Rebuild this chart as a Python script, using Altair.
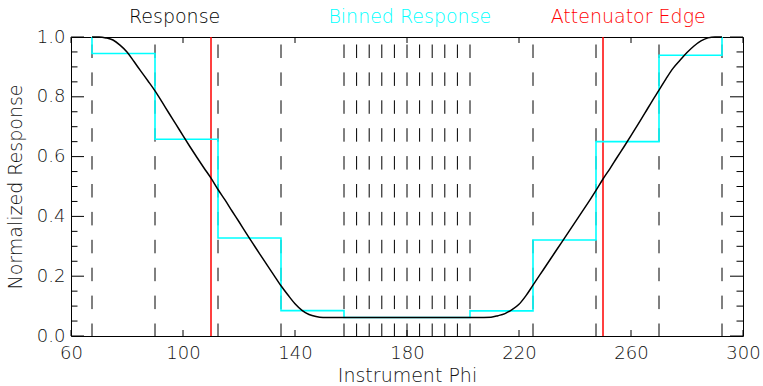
import altair as alt
import pandas as pd

# Response curve
resp_phi = [67.5, 70, 72.5, 75, 77.5, 80, 82.5, 85, 87.5, 90, 92.5, 95, 97.5, 100,
            102.5, 105, 107.5, 110, 112.5, 115, 117.5, 120, 122.5, 125, 127.5, 130,
            132.5, 135, 137.5, 140, 142.5, 145, 147.5, 150, 155, 160, 170, 180, 190,
            200, 205, 210, 212.5, 215, 217.5, 220, 222.5, 225, 227.5, 230, 232.5, 235,
            237.5, 240, 242.5, 245, 247.5, 250, 252.5, 255, 257.5, 260, 262.5, 265,
            267.5, 270, 272.5, 275, 277.5, 280, 282.5, 285, 287.5, 290, 292.5]
resp_val = [1.0, 1.0, 0.997, 0.99, 0.973, 0.95, 0.918, 0.885, 0.853, 0.82, 0.783, 0.745,
            0.708, 0.67, 0.633, 0.597, 0.562, 0.528, 0.49, 0.455, 0.418, 0.382, 0.345,
            0.309, 0.273, 0.238, 0.203, 0.168, 0.137, 0.108, 0.086, 0.072, 0.065, 0.062,
            0.0615, 0.0615, 0.0615, 0.0615, 0.0615, 0.0615, 0.0615, 0.063, 0.068, 0.075,
            0.088, 0.106, 0.135, 0.17, 0.205, 0.24, 0.275, 0.31, 0.345, 0.38, 0.415,
            0.45, 0.487, 0.525, 0.56, 0.597, 0.633, 0.67, 0.708, 0.746, 0.785, 0.822,
            0.86, 0.895, 0.922, 0.948, 0.97, 0.987, 0.997, 1.0, 1.0]

# Bin edges (dashed lines) and binned response
bin_edges = [67.5, 90, 112.5, 135, 157.5, 162, 166.5, 171, 175.5, 180, 184.5, 189,
             193.5, 198, 202.5, 225, 247.5, 270, 292.5]
bin_vals = [0.945, 0.658, 0.328, 0.085, 0.062, 0.062, 0.062, 0.062, 0.062, 0.062,
            0.062, 0.062, 0.062, 0.062, 0.084, 0.321, 0.650, 0.939]

# Attenuator edges
atten_edges = [110, 250]

# Axis ticks
x_ticks = [60, 100, 140, 180, 220, 260, 300]
y_major = [0.0, 0.2, 0.4, 0.6, 0.8, 1.0]
y_minor = [0.05, 0.1, 0.15, 0.25, 0.3, 0.35, 0.45, 0.5, 0.55, 0.65, 0.7, 0.75,
           0.85, 0.9, 0.95]

# Legend labels
legend_text = ["Response", "Binned Response", "Attenuator Edge"]
legend_color = ["#000000", "#00FFFF", "#FF0000"]
legend_x = [97, 181, 259]

W, H = 672, 299
FONT = "DejaVu Sans"
FW = 200

xs = alt.Scale(domain=[60, 300], nice=False, zero=False)
ys = alt.Scale(domain=[0, 1.0], nice=False, zero=False)

resp_df = pd.DataFrame({"phi": resp_phi, "r": resp_val})

# step path for binned response
step_x = [bin_edges[0]] + bin_edges[:-1] + [bin_edges[-1]]
step_y = [1.0] + bin_vals + [1.0]
step_df = pd.DataFrame({"phi": step_x, "r": step_y, "i": list(range(len(step_x)))})

edges_df = pd.DataFrame({"phi": bin_edges})
atten_df = pd.DataFrame({"phi": atten_edges})

x_axis = alt.Axis(values=x_ticks, ticks=False, domain=False, grid=False, labelFont=FONT,
                  labelFontSize=18, labelFontWeight=FW, labelColor="#111", labelPadding=8,
                  title="Instrument Phi", titleFont=FONT, titleFontSize=19,
                  titleFontWeight=FW, titleColor="#111", titlePadding=4, labelFlush=False)
y_axis = alt.Axis(values=y_major, format=".1f", ticks=False, domain=False, grid=False,
                  labelFont=FONT, labelFontSize=18, labelFontWeight=FW, labelColor="#111",
                  labelPadding=6, title="Normalized Response", titleFont=FONT,
                  titleFontSize=19, titleFontWeight=FW, titleColor="#111",
                  titlePadding=11, labelFlush=False)

dashed = alt.Chart(edges_df).mark_rule(color="black", strokeWidth=1,
                                        strokeDash=[13.5, 14.4], strokeDashOffset=20.4).encode(
    x=alt.X("phi:Q", scale=xs, axis=x_axis)
)

atten = alt.Chart(atten_df).mark_rule(color="#FF0000", strokeWidth=1.5).encode(
    x=alt.X("phi:Q", scale=xs)
)

binned = alt.Chart(step_df).mark_line(color="#00FFFF", strokeWidth=1.6,
                                       interpolate="step-after").encode(
    x=alt.X("phi:Q", scale=xs),
    y=alt.Y("r:Q", scale=ys, axis=y_axis),
    order="i:O",
)

response = alt.Chart(resp_df).mark_line(color="black", strokeWidth=1.5,
                                         interpolate="monotone").encode(
    x=alt.X("phi:Q", scale=xs),
    y=alt.Y("r:Q", scale=ys),
)

xt_df = pd.DataFrame({"v": x_ticks})
ymaj_df = pd.DataFrame({"v": y_major})
ymin_df = pd.DataFrame({"v": y_minor})

tick_style = dict(color="black", strokeWidth=1)
xt_bottom = alt.Chart(xt_df).mark_rule(**tick_style).encode(
    x=alt.X("v:Q", scale=xs), y=alt.value(H - 6), y2=alt.value(H))
xt_top = alt.Chart(xt_df).mark_rule(**tick_style).encode(
    x=alt.X("v:Q", scale=xs), y=alt.value(0), y2=alt.value(6))
yl_maj = alt.Chart(ymaj_df).mark_rule(**tick_style).encode(
    y=alt.Y("v:Q", scale=ys), x=alt.value(0), x2=alt.value(13))
yl_min = alt.Chart(ymin_df).mark_rule(**tick_style).encode(
    y=alt.Y("v:Q", scale=ys), x=alt.value(0), x2=alt.value(6.5))
yr_maj = alt.Chart(ymaj_df).mark_rule(**tick_style).encode(
    y=alt.Y("v:Q", scale=ys), x=alt.value(W - 13), x2=alt.value(W))
yr_min = alt.Chart(ymin_df).mark_rule(**tick_style).encode(
    y=alt.Y("v:Q", scale=ys), x=alt.value(W - 6.5), x2=alt.value(W))

leg_df = pd.DataFrame({"t": legend_text, "c": legend_color, "x": legend_x})
legend = alt.Chart(leg_df).mark_text(font=FONT, fontSize=19, fontWeight=FW, align="center",
                                     baseline="alphabetic").encode(
    x=alt.X("x:Q", scale=xs),
    y=alt.value(-14),
    text="t:N",
    color=alt.Color("c:N", scale=None),
)

chart = alt.layer(
    dashed, atten, binned, response,
    xt_bottom, xt_top, yl_maj, yl_min, yr_maj, yr_min, legend
).properties(
    width=W, height=H,
    autosize=alt.AutoSizeParams(type="none"),
    padding={"left": 71, "top": 37, "right": 20, "bottom": 50},
    background="white",
).configure_view(stroke="black", strokeWidth=1)

chart.save("out.html", embed_options={"renderer": "svg", "actions": False})
